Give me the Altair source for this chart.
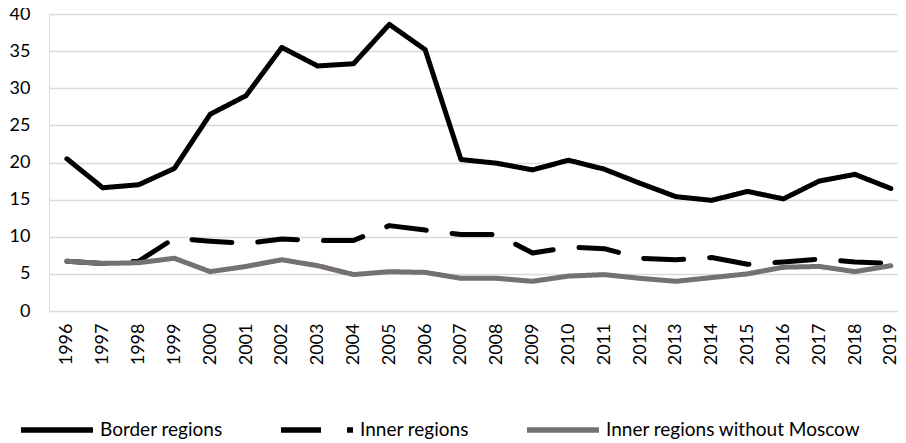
import altair as alt
import pandas as pd

years = list(range(1996, 2020))
border = [20.5, 16.6, 17.0, 19.2, 26.5, 29.0, 35.5, 33.0, 33.3, 38.6, 35.2, 20.4,
          19.9, 19.0, 20.3, 19.1, 17.2, 15.4, 14.9, 16.1, 15.1, 17.5, 18.4, 16.5]
inner = [6.7, 6.4, 6.7, 9.8, 9.4, 9.1, 9.7, 9.5, 9.5, 11.5, 10.9, 10.3,
         10.3, 7.8, 8.6, 8.4, 7.1, 6.9, 7.2, 6.3, 6.6, 7.0, 6.6, 6.4]
inner_wo_moscow = [6.7, 6.4, 6.5, 7.1, 5.3, 6.0, 6.9, 6.1, 4.9, 5.3, 5.2, 4.4,
                   4.4, 4.0, 4.7, 4.9, 4.4, 4.0, 4.5, 5.0, 5.9, 6.0, 5.3, 6.1]
series_names = ["Border regions", "Inner regions", "Inner regions without Moscow"]
series_colors = ["#000000", "#000000", "#767171"]
series_dash = [[1, 0], [40, 26], [1, 0]]
y_ticks = [0, 5, 10, 15, 20, 25, 30, 35, 40]

rows = []
for name, vals in zip(series_names, [border, inner, inner_wo_moscow]):
    for yr, v in zip(years, vals):
        rows.append({"year": yr, "value": v, "series": name,
                     "order": series_names.index(name)})
df = pd.DataFrame(rows)

FONT = "Lato"

legend_opts = dict(title=None, orient="none", direction="horizontal",
                   legendX=-31, legendY=377,
                   symbolType="stroke", symbolSize=5184,
                   symbolStrokeWidth=5.5, labelFontSize=19,
                   labelFont=FONT, labelColor="#000000", labelBaseline="middle",
                   labelOffset=4, columnPadding=47,
                   labelLimit=400)

chart = alt.Chart(df).mark_line(strokeWidth=5, strokeCap="round", strokeJoin="round").encode(
    x=alt.X("year:Q",
            scale=alt.Scale(domain=[1995.5, 2019.2], nice=False, zero=False),
            axis=alt.Axis(values=years, format="d", labelAngle=-90, ticks=False,
                          domain=False, grid=False, labelPadding=12, labelFlush=False,
                          labelFontSize=18, labelFont=FONT, labelColor="#000000",
                          title=None)),
    y=alt.Y("value:Q",
            scale=alt.Scale(domain=[0, 40], nice=False),
            axis=alt.Axis(values=y_ticks, ticks=False, domain=False, grid=True,
                          gridColor="#d9d9d9", gridWidth=1.5, labelPadding=19,
                          labelFontSize=18, labelFont=FONT, labelColor="#000000",
                          title=None)),
    color=alt.Color("series:N",
                    scale=alt.Scale(domain=series_names, range=series_colors),
                    legend=alt.Legend(**legend_opts)),
    strokeDash=alt.StrokeDash("series:N",
                              scale=alt.Scale(domain=series_names, range=series_dash),
                              legend=alt.Legend(**legend_opts)),
    order=alt.Order("order:Q"),
).properties(
    width=849, height=297,
    autosize=alt.AutoSizeParams(type="none"),
    padding={"left": 41, "top": 6, "right": 0, "bottom": 140},
).configure_view(stroke=None).configure(background="white")

chart.save("out.html", embed_options={"renderer": "svg", "actions": False})
